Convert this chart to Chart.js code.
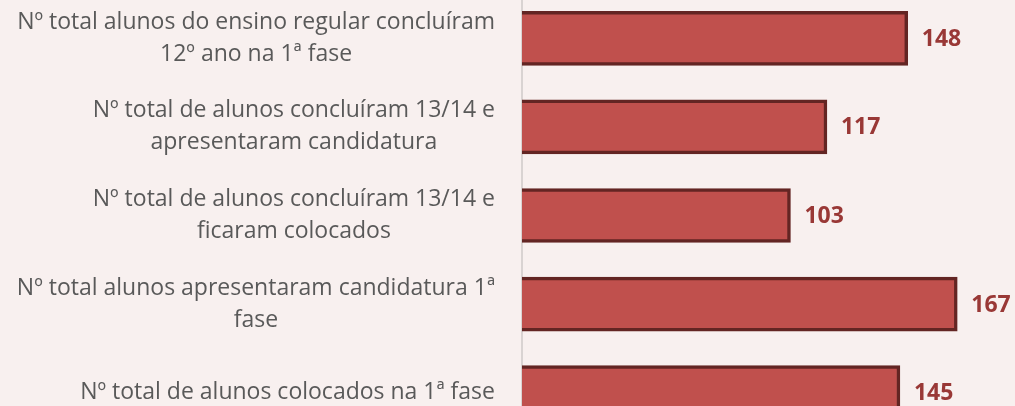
<!DOCTYPE html>
<html>
<head>
<meta charset="utf-8">
<script src="https://cdn.jsdelivr.net/npm/chart.js@4"></script>
<style>
  html, body { margin: 0; padding: 0; background: #f8f0ef; overflow: hidden; }
  .wrap { position: absolute; left: 0; top: -6px; width: 1015px; height: 443px; }
</style>
</head>
<body>
<div class="wrap"><canvas id="myChart"></canvas></div>
<script>
// chart data
var categories = [
    ['Nº total alunos do ensino regular concluíram', '12º ano na 1ª fase'],
    ['Nº total de alunos concluíram 13/14 e', 'apresentaram candidatura'],
    ['Nº total de alunos concluíram 13/14 e', 'ficaram colocados'],
    ['Nº total alunos apresentaram candidatura 1ª', 'fase'],
    ['Nº total de alunos colocados na 1ª fase']
];
var values = [148, 117, 103, 167, 145];
var xMin = 0;
var xMax = 188;

// draws the category labels (block right aligned, lines centered) and the value labels
var labelPlugin = {
    id: 'labelPlugin',
    afterDraw: function (chart) {
        var ctx = chart.ctx;
        var yScale = chart.scales.y;
        var meta = chart.getDatasetMeta(0);
        ctx.save();
        ctx.font = '23px "Open Sans"';
        ctx.fillStyle = '#595959';
        ctx.textAlign = 'center';
        ctx.textBaseline = 'middle';
        for (var i = 0; i < categories.length; i++) {
            var lines = categories[i];
            var y = yScale.getPixelForValue(i);
            var widest = 0;
            for (var k = 0; k < lines.length; k++) {
                widest = Math.max(widest, ctx.measureText(lines[k]).width);
            }
            var cx = yScale.right - 27 - widest / 2;
            for (var j = 0; j < lines.length; j++) {
                ctx.fillText(lines[j], cx, y + (j - (lines.length - 1) / 2) * 32);
            }
        }
        ctx.font = 'bold 23px "Open Sans"';
        ctx.fillStyle = '#993836';
        ctx.textAlign = 'left';
        meta.data.forEach(function (bar, n) {
            ctx.fillText(values[n], bar.x + 14, bar.y + 1);
        });
        ctx.restore();
    }
};

function makeChart() {
    var ctx = document.getElementById('myChart').getContext('2d');
    new Chart(ctx, {
        type: 'bar',
        data: {
            labels: categories,
            datasets: [{
                data: values,
                backgroundColor: '#c0504d',
                borderColor: '#632523',
                borderWidth: 3.5,
                borderSkipped: 'start',
                barThickness: 54
            }]
        },
        options: {
            indexAxis: 'y',
            responsive: true,
            maintainAspectRatio: false,
            animation: false,
            layout: { padding: { left: 0, right: 3, top: 0, bottom: 0 } },
            plugins: {
                legend: { display: false },
                tooltip: { enabled: false }
            },
            scales: {
                x: { display: false, min: xMin, max: xMax },
                y: {
                    grid: { display: false },
                    border: { color: '#d9d3d2', width: 2 },
                    ticks: { display: false },
                    afterFit: function (scale) { scale.width = 522; }
                }
            }
        },
        plugins: [labelPlugin]
    });
}

Promise.all([
    document.fonts.load('23px "Open Sans"'),
    document.fonts.load('bold 23px "Open Sans"')
]).then(makeChart, makeChart);
</script>
</body>
</html>
